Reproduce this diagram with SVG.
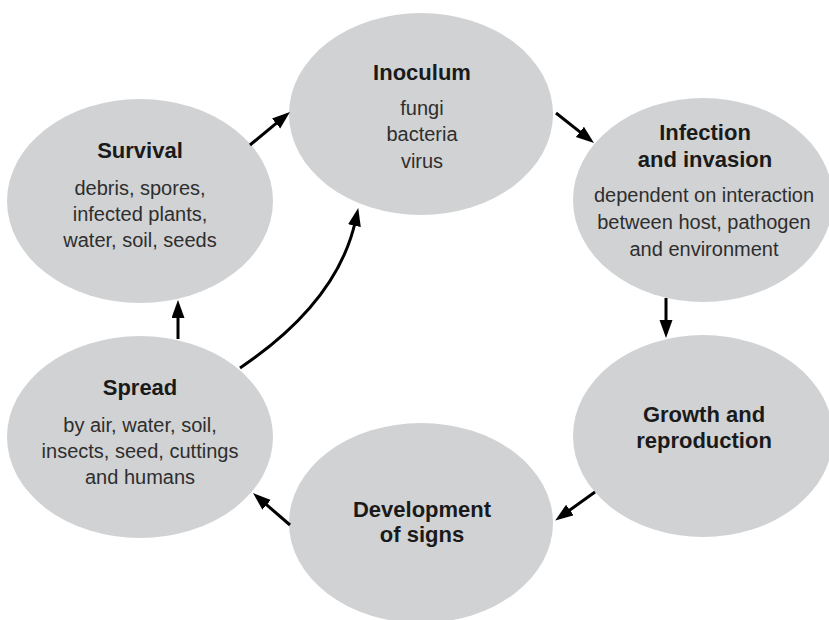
<svg xmlns="http://www.w3.org/2000/svg" width="829" height="620" viewBox="0 0 829 620">
<style>
.node{fill:#d1d2d4;}
.t{font-family:"Liberation Sans",Arial,sans-serif;font-weight:bold;font-size:22px;fill:#1a1a1a;text-anchor:middle;}
.b{font-family:"Liberation Sans",Arial,sans-serif;font-size:20px;fill:#2e2e2e;text-anchor:middle;}
.c{fill:none;stroke:#000;stroke-width:3;}
</style>
<defs>
<marker id="ah" markerUnits="userSpaceOnUse" markerWidth="20" markerHeight="14" refX="6" refY="6.5" orient="auto">
<path d="M0,0 L18,6.5 L0,13 z" fill="#000"/>
</marker>
</defs>
<rect width="829" height="620" fill="#ffffff"/>
<g id="inoculum">
<ellipse class="node" cx="421" cy="114" rx="132" ry="101"/>
<text class="t" x="422" y="80">Inoculum</text>
<text class="b" x="422" y="115">fungi</text>
<text class="b" x="422" y="141">bacteria</text>
<text class="b" x="422" y="168">virus</text>
</g>
<g id="survival">
<ellipse class="node" cx="140" cy="201" rx="133" ry="102"/>
<text class="t" x="140" y="158">Survival</text>
<text class="b" x="140" y="195">debris, spores,</text>
<text class="b" x="140" y="221">infected plants,</text>
<text class="b" x="140" y="247">water, soil, seeds</text>
</g>
<g id="infection">
<ellipse class="node" cx="703" cy="200" rx="130" ry="102"/>
<text class="t" x="705" y="140">Infection</text>
<text class="t" x="705" y="167">and invasion</text>
<text class="b" x="704" y="202">dependent on interaction</text>
<text class="b" x="704" y="229">between host, pathogen</text>
<text class="b" x="704" y="256">and environment</text>
</g>
<g id="spread">
<ellipse class="node" cx="140" cy="437" rx="133" ry="101"/>
<text class="t" x="140" y="395">Spread</text>
<text class="b" x="140" y="432">by air, water, soil,</text>
<text class="b" x="140" y="458">insects, seed, cuttings</text>
<text class="b" x="140" y="484">and humans</text>
</g>
<g id="growth">
<ellipse class="node" cx="703" cy="436" rx="130" ry="101"/>
<text class="t" x="704" y="422">Growth and</text>
<text class="t" x="704" y="448">reproduction</text>
</g>
<g id="development">
<ellipse class="node" cx="421" cy="523" rx="132" ry="100"/>
<text class="t" x="422" y="517">Development</text>
<text class="t" x="422" y="542">of signs</text>
</g>
<g id="connectors">
<line class="c" x1="250" y1="145" x2="280.7" y2="119.6" marker-end="url(#ah)"/>
<line class="c" x1="556" y1="113" x2="584.6" y2="135.6" marker-end="url(#ah)"/>
<line class="c" x1="666" y1="298" x2="666" y2="326" marker-end="url(#ah)"/>
<line class="c" x1="595" y1="492" x2="565" y2="513.5" marker-end="url(#ah)"/>
<line class="c" x1="290" y1="525" x2="262.1" y2="500.9" marker-end="url(#ah)"/>
<line class="c" x1="178" y1="339" x2="178" y2="312" marker-end="url(#ah)"/>
<path class="c" d="M240,368 Q338,302 355.7,219.8" marker-end="url(#ah)"/>
</g>
</svg>
